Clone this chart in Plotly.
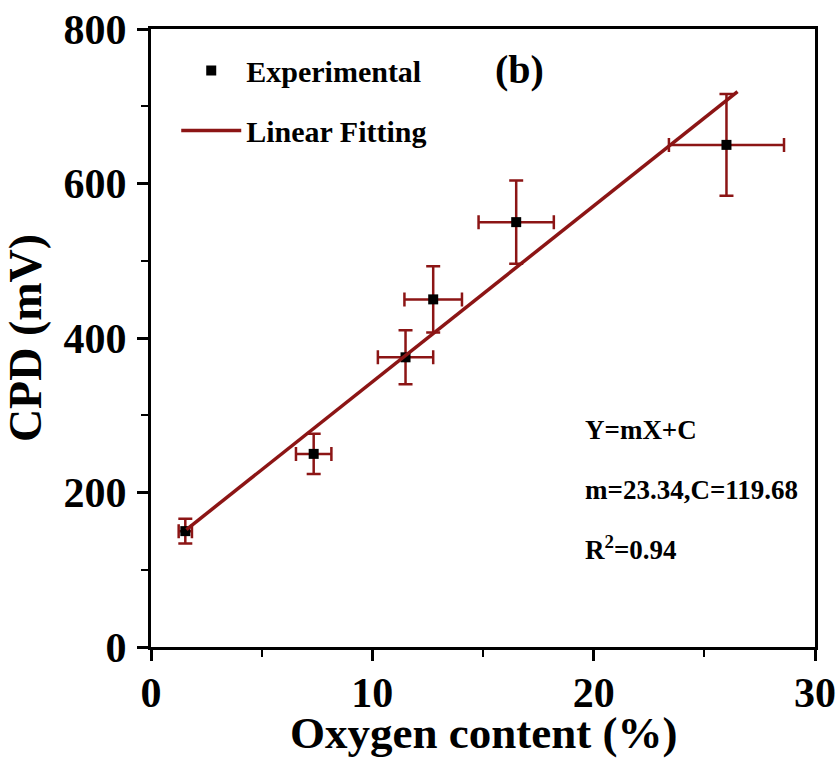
import plotly.graph_objects as go

oxygen = [1.55, 7.35, 11.5, 12.75, 16.5, 26.0]
oxygen_err = [0.3, 0.8, 1.25, 1.3, 1.7, 2.6]
cpd = [150, 250, 375, 450, 550, 650]
cpd_err = [16, 26, 35, 43, 54, 66]

# Linear fitting line end points
fit_x = [1.6, 26.5]
fit_y = [152, 719]

x_ticks = [0, 10, 20, 30]
y_ticks = [0, 200, 400, 600, 800]

RED = "#8C1515"
FONT = "Liberation Serif"

fig = go.Figure()

fig.add_trace(go.Scatter(
    x=oxygen, y=cpd, mode="markers", name="Experimental",
    legendgroup="a",
    marker=dict(symbol="square", size=10, color="black"),
    error_x=dict(type="data", array=oxygen_err, color=RED, thickness=2.5, width=7),
    error_y=dict(type="data", array=cpd_err, color=RED, thickness=2.5, width=7),
))

fig.add_trace(go.Scatter(
    x=fit_x, y=fit_y, mode="lines", name="Linear Fitting",
    legendgroup="b",
    line=dict(color=RED, width=3.5),
))

axis_common = dict(
    showline=True, linewidth=3, linecolor="black", mirror=True,
    ticks="outside", ticklen=11, tickwidth=2.5, tickcolor="black",
    showgrid=False, zeroline=False, automargin=False,
    tickfont=dict(family=FONT, size=42, color="black", weight="bold"),
)

fig.update_xaxes(
    range=[0, 30], tickvals=x_ticks,
    minor=dict(tick0=0, dtick=5, ticks="outside", ticklen=7, tickwidth=2, tickcolor="black"),
    ticklabelstandoff=-4,
    **axis_common,
)
fig.update_yaxes(
    range=[0, 800], tickvals=y_ticks,
    minor=dict(tick0=0, dtick=100, ticks="outside", ticklen=7, tickwidth=2, tickcolor="black"),
    title=dict(text="<b>CPD (mV)</b>", font=dict(family=FONT, size=46, color="black"),
               standoff=8),
    ticklabelstandoff=2,
    **axis_common,
)

# x-axis title
fig.add_annotation(x=0.5, y=0, xref="paper", yref="paper", text="<b>Oxygen content (%)</b>",
                   showarrow=False, font=dict(family=FONT, size=45, color="black"),
                   xanchor="center", yanchor="middle", yshift=-86)

fig.add_annotation(x=0.555, y=0.935, xref="paper", yref="paper", text="<b>(b)</b>",
                   showarrow=False, font=dict(family=FONT, size=40, color="black"),
                   xanchor="center", yanchor="middle")

for txt, yy in [("<b>Y=mX+C</b>", 281), ("<b>m=23.34,C=119.68</b>", 203),
                ("<b>R<sup>2</sup>=0.94</b>", 128)]:
    fig.add_annotation(x=19.5, y=yy, text=txt, showarrow=False, xanchor="left",
                       yanchor="middle", font=dict(family=FONT, size=27, color="black"))

fig.update_layout(
    width=837, height=759,
    margin=dict(l=151, r=22, t=29, b=112),
    plot_bgcolor="white", paper_bgcolor="white",
    showlegend=True,
    legend=dict(x=0.038, y=0.975, xanchor="left", yanchor="top",
                font=dict(family=FONT, size=30, color="black", weight="bold"),
                bgcolor="rgba(0,0,0,0)", tracegroupgap=18, itemwidth=60,
                traceorder="grouped"),
)

fig.write_html("out.html", config={"displayModeBar": False},
               post_script="document.body.style.margin='0';document.body.style.overflow='hidden';")
